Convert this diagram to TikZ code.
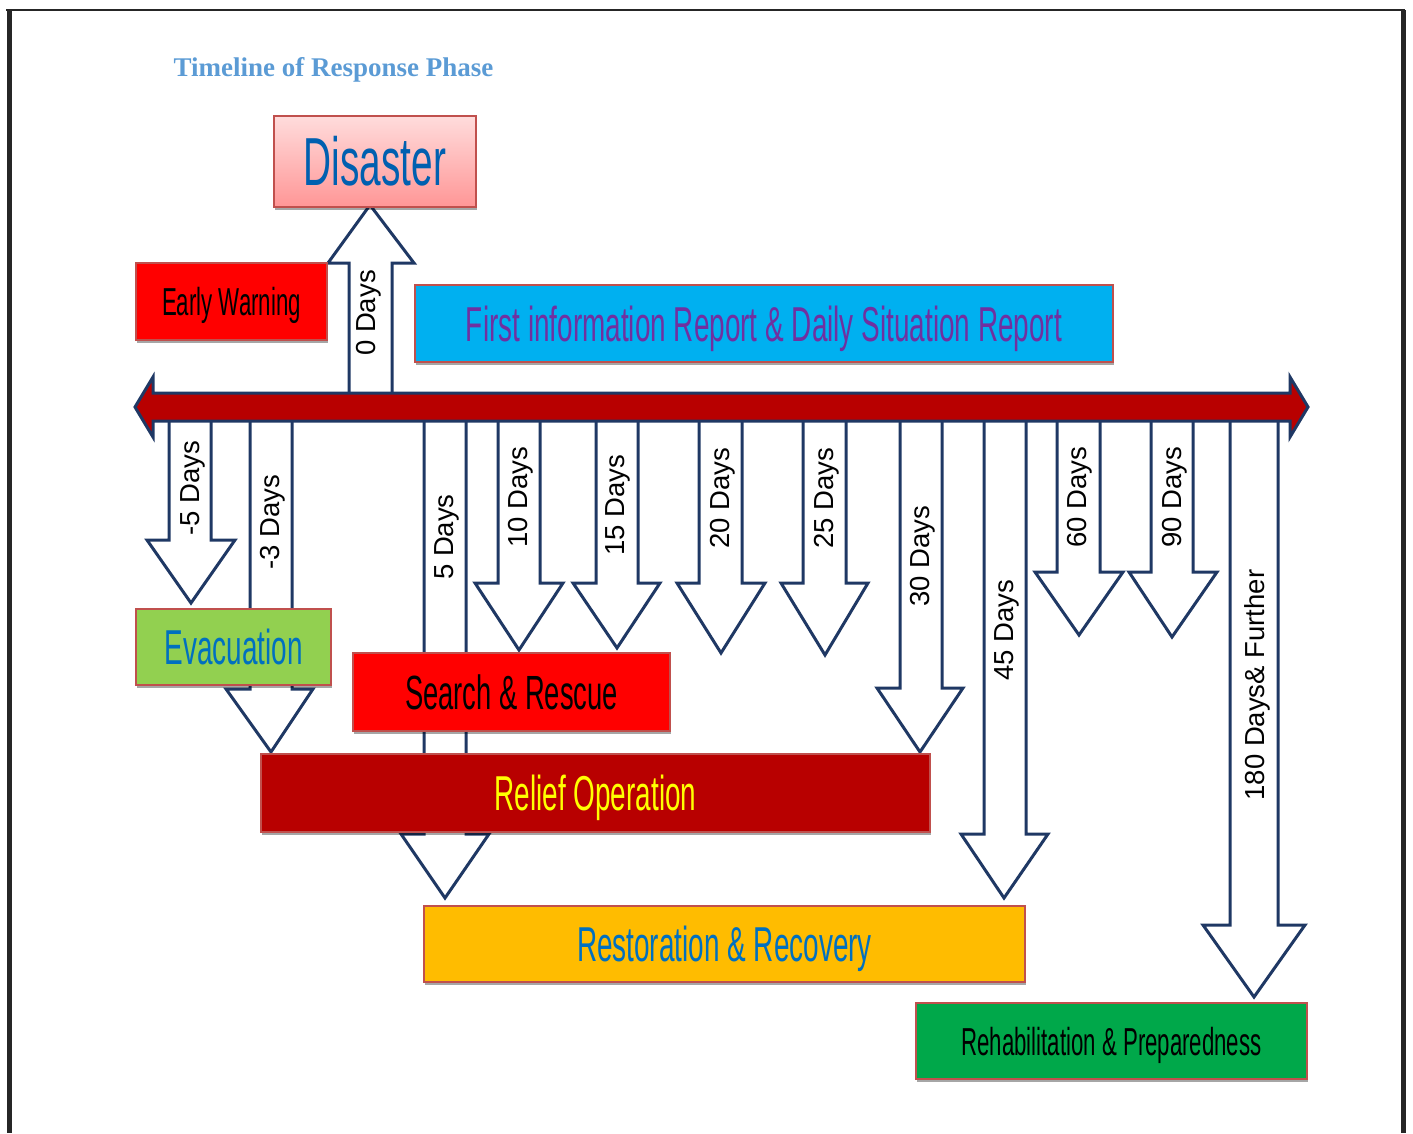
\documentclass[tikz,border=0pt]{standalone}
\usepackage{fontspec}
\setmainfont{Liberation Sans}
\newfontfamily\narrowfont[FakeStretch=0.57]{Liberation Sans}
\newfontfamily\titlefont{Liberation Serif}
\usetikzlibrary{shadows}
\definecolor{navy}{RGB}{31,56,100}
\definecolor{barred}{RGB}{184,0,0}
\definecolor{boxedge}{RGB}{192,80,77}
\definecolor{titleblue}{RGB}{91,155,213}
\definecolor{pinktop}{RGB}{255,220,220}
\definecolor{pinkbot}{RGB}{255,150,150}
\definecolor{dblue}{RGB}{0,96,176}
\definecolor{tblue}{RGB}{0,112,192}
\definecolor{pred}{RGB}{255,0,0}
\definecolor{cyanbox}{RGB}{0,176,240}
\definecolor{purpletext}{RGB}{112,48,160}
\definecolor{evacgreen}{RGB}{146,208,80}
\definecolor{orangebox}{RGB}{255,188,0}
\definecolor{rehabgreen}{RGB}{0,168,74}
\definecolor{yellowtext}{RGB}{255,255,0}
\tikzset{
  blk/.style={fill=white, draw=navy, line width=3pt, line join=miter},
  daylbl/.style={rotate=90, font=\fontsize{27.5}{27.5}\selectfont, text=black, inner sep=0pt},
  box/.style={draw=boxedge, line width=1.3pt, inner sep=0pt, text depth=0pt,
    drop shadow={shadow xshift=1pt, shadow yshift=-3pt, opacity=0.35, fill=black}},
}
% down block arrow: xl, xr, head base y, head left, head right, tip x, tip y
\newcommand\darr[7]{%
  \draw[blk] (#1,407) -- (#1,#3) -- (#4,#3) -- (#6,#7) -- (#5,#3) -- (#2,#3) -- (#2,407) -- cycle;}
\begin{document}
\begin{tikzpicture}[x=1pt,y=-1pt]
\useasboundingbox (0,0) rectangle (1413,1133);
% page border
\draw[line width=2.5pt, black!85] (6,10) -- (1405,10);
\draw[line width=5pt, black!85] (9,10) -- (9,1133);
\draw[line width=5pt, black!85] (1403,10) -- (1403,1133);
% title
\node[font=\titlefont\bfseries\fontsize{27}{27}\selectfont, text=titleblue, inner sep=0pt] (title) at (333.5,70) {Timeline of Response Phase};
% arrows below the timeline
\darr{169}{211}{540}{147}{235}{191}{603}
\darr{250}{292}{689}{226}{313}{271}{752}
\darr{424}{466}{834}{401}{489}{445}{898}
\darr{498}{540}{583}{475}{563}{519}{650}
\darr{596}{638}{583}{573}{660}{617}{648}
\darr{699}{742}{583}{677}{765}{721}{653}
\darr{803}{846}{583}{781}{868}{825}{655}
\darr{900}{942}{688}{877}{963}{920}{752}
\darr{984}{1026}{834}{961}{1048}{1004}{898}
\darr{1057}{1100}{572}{1035}{1123}{1079}{635}
\darr{1151}{1193}{572}{1129}{1217}{1172}{637}
\darr{1230}{1278}{925}{1203}{1305}{1254}{997}
% up arrow (0 days)
\draw[blk] (349,407) -- (349,263) -- (328,263) -- (370,205) -- (414,263) -- (392,263) -- (392,407) -- cycle;
% day labels
\node[daylbl] (l0) at (369,313) {0 Days};
\node[daylbl] (lm5) at (193,488) {-5 Days};
\node[daylbl] (lm3) at (273,522) {-3 Days};
\node[daylbl] (l5) at (447,537) {5 Days};
\node[daylbl] (l10) at (521,497) {10 Days};
\node[daylbl] (l15) at (618,505) {15 Days};
\node[daylbl] (l20) at (723,498) {20 Days};
\node[daylbl] (l25) at (827,498) {25 Days};
\node[daylbl] (l30) at (923,556) {30 Days};
\node[daylbl] (l45) at (1007,630) {45 Days};
\node[daylbl] (l60) at (1080,497) {60 Days};
\node[daylbl] (l90) at (1175,497) {90 Days};
\node[daylbl] (l180) at (1257,685) {180 Days\& Further};
% timeline double arrow
\draw[fill=barred, draw=navy, line width=3pt, line join=miter]
  (135,407) -- (153,377) -- (153,393) -- (1290,393) -- (1290,377) -- (1308,407)
  -- (1290,437) -- (1290,421) -- (153,421) -- (153,437) -- cycle;
% boxes
\node[box, top color=pinktop, bottom color=pinkbot, minimum width=202pt, minimum height=91pt,
  text height=48pt, font=\narrowfont\fontsize{68}{68}\selectfont, text=dblue] (disaster) at (375,161.5) {Disaster};
\node[box, fill=pred, minimum width=191pt, minimum height=77pt,
  text height=28pt, font=\narrowfont\fontsize{39}{39}\selectfont, text=black] (early) at (231.5,301.5) {Early Warning};
\node[box, fill=cyanbox, minimum width=698pt, minimum height=77pt,
  text height=35pt, font=\narrowfont\fontsize{49}{49}\selectfont, text=purpletext] (fir) at (764,323.5) {First information Report \& Daily Situation Report};
\node[box, fill=evacgreen, minimum width=195pt, minimum height=76pt,
  text height=35pt, font=\narrowfont\fontsize{49}{49}\selectfont, text=tblue] (evac) at (233.5,647) {Evacuation};
\node[box, fill=pred, minimum width=317pt, minimum height=78pt,
  text height=34pt, font=\narrowfont\fontsize{48}{48}\selectfont, text=black] (search) at (511.5,692) {Search \& Rescue};
\node[box, fill=barred, minimum width=669pt, minimum height=78pt,
  text height=35pt, font=\narrowfont\fontsize{49}{49}\selectfont, text=yellowtext] (relief) at (595.5,793) {Relief Operation};
\node[box, fill=orangebox, minimum width=601pt, minimum height=76pt,
  text height=35pt, font=\narrowfont\fontsize{49}{49}\selectfont, text=tblue] (resto) at (724.5,944) {Restoration \& Recovery};
\node[box, fill=rehabgreen, minimum width=391pt, minimum height=76pt,
  text height=28pt, font=\narrowfont\fontsize{39}{39}\selectfont, text=black] (rehab) at (1111.5,1041) {Rehabilitation \& Preparedness};
\end{tikzpicture}
\end{document}
